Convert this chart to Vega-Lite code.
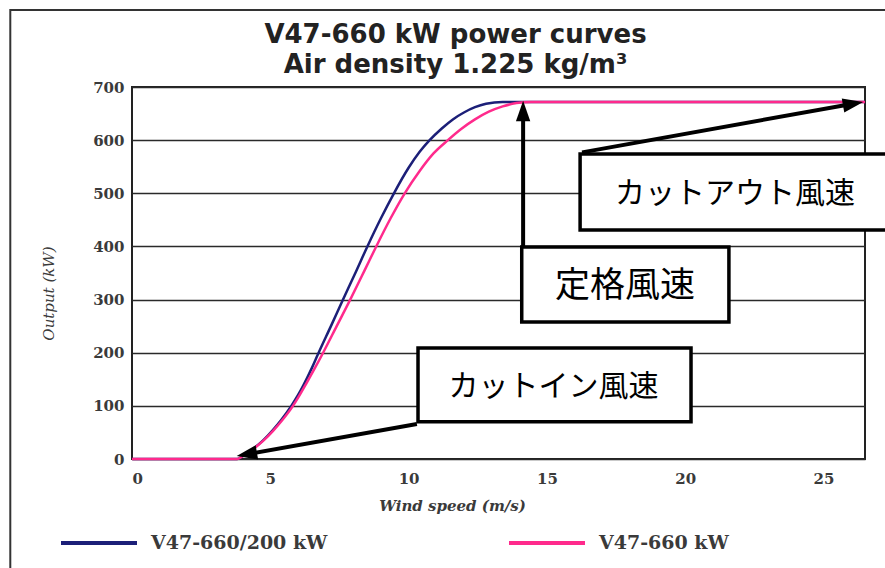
{
  "$schema": "https://vega.github.io/schema/vega-lite/v6.json",
  "autosize": {"type": "none"},
  "width": 733,
  "height": 372,
  "padding": {"left": 132, "top": 87, "right": 20, "bottom": 109},
  "background": "white",
  "config": {
    "view": {"stroke": "#222222", "strokeWidth": 2},
    "font": "DejaVu Serif"
  },
  "title": {
    "text": ["V47-660 kW power curves", "Air density 1.225 kg/m³"],
    "font": "DejaVu Sans",
    "fontWeight": "bold",
    "fontSize": 26,
    "lineHeight": 30,
    "color": "#222222",
    "anchor": "middle",
    "frame": "group",
    "dx": -43,
    "offset": -69
  },
  "datasets": {
    "curves": [
      {"model": "V47-660/200 kW", "wind": 0, "output": 0},
      {"model": "V47-660/200 kW", "wind": 3.8, "output": 0},
      {"model": "V47-660/200 kW", "wind": 4.0, "output": 5.5},
      {"model": "V47-660/200 kW", "wind": 4.4, "output": 20},
      {"model": "V47-660/200 kW", "wind": 4.74, "output": 35},
      {"model": "V47-660/200 kW", "wind": 5.1, "output": 55},
      {"model": "V47-660/200 kW", "wind": 5.4, "output": 74},
      {"model": "V47-660/200 kW", "wind": 5.76, "output": 100},
      {"model": "V47-660/200 kW", "wind": 6.0, "output": 120},
      {"model": "V47-660/200 kW", "wind": 6.2, "output": 139},
      {"model": "V47-660/200 kW", "wind": 6.5, "output": 171},
      {"model": "V47-660/200 kW", "wind": 6.73, "output": 198},
      {"model": "V47-660/200 kW", "wind": 7.2, "output": 251},
      {"model": "V47-660/200 kW", "wind": 7.63, "output": 300},
      {"model": "V47-660/200 kW", "wind": 8.1, "output": 353},
      {"model": "V47-660/200 kW", "wind": 8.51, "output": 400},
      {"model": "V47-660/200 kW", "wind": 9.0, "output": 453},
      {"model": "V47-660/200 kW", "wind": 9.47, "output": 500},
      {"model": "V47-660/200 kW", "wind": 10.0, "output": 548},
      {"model": "V47-660/200 kW", "wind": 10.4, "output": 578},
      {"model": "V47-660/200 kW", "wind": 10.76, "output": 600},
      {"model": "V47-660/200 kW", "wind": 11.2, "output": 622},
      {"model": "V47-660/200 kW", "wind": 11.6, "output": 639},
      {"model": "V47-660/200 kW", "wind": 12.0, "output": 652},
      {"model": "V47-660/200 kW", "wind": 12.4, "output": 662},
      {"model": "V47-660/200 kW", "wind": 12.8, "output": 668.5},
      {"model": "V47-660/200 kW", "wind": 13.4, "output": 672},
      {"model": "V47-660/200 kW", "wind": 26.5, "output": 672},
      {"model": "V47-660 kW", "wind": 0, "output": 0},
      {"model": "V47-660 kW", "wind": 3.8, "output": 0},
      {"model": "V47-660 kW", "wind": 4.0, "output": 5.5},
      {"model": "V47-660 kW", "wind": 4.4, "output": 19.5},
      {"model": "V47-660 kW", "wind": 4.74, "output": 34},
      {"model": "V47-660 kW", "wind": 5.1, "output": 53},
      {"model": "V47-660 kW", "wind": 5.4, "output": 71},
      {"model": "V47-660 kW", "wind": 5.82, "output": 100},
      {"model": "V47-660 kW", "wind": 6.0, "output": 115},
      {"model": "V47-660 kW", "wind": 6.3, "output": 142},
      {"model": "V47-660 kW", "wind": 6.6, "output": 170},
      {"model": "V47-660 kW", "wind": 6.91, "output": 200},
      {"model": "V47-660 kW", "wind": 7.4, "output": 250},
      {"model": "V47-660 kW", "wind": 7.89, "output": 300},
      {"model": "V47-660 kW", "wind": 8.4, "output": 354},
      {"model": "V47-660 kW", "wind": 8.83, "output": 400},
      {"model": "V47-660 kW", "wind": 9.35, "output": 453},
      {"model": "V47-660 kW", "wind": 9.86, "output": 500},
      {"model": "V47-660 kW", "wind": 10.4, "output": 542},
      {"model": "V47-660 kW", "wind": 10.9, "output": 575},
      {"model": "V47-660 kW", "wind": 11.42, "output": 600},
      {"model": "V47-660 kW", "wind": 11.9, "output": 621},
      {"model": "V47-660 kW", "wind": 12.4, "output": 639},
      {"model": "V47-660 kW", "wind": 12.9, "output": 653.5},
      {"model": "V47-660 kW", "wind": 13.4, "output": 663.5},
      {"model": "V47-660 kW", "wind": 13.9, "output": 669.8},
      {"model": "V47-660 kW", "wind": 14.42, "output": 672},
      {"model": "V47-660 kW", "wind": 26.5, "output": 672}
    ],
    "frame": [{"x1": -4.4, "x2": 28.5, "y1": 845, "y2": -300}],
    "boxes": [
      {"name": "cutout", "x1": 16.2, "x2": 28.5, "y1": 574, "y2": 431},
      {"name": "rated", "x1": 14.09, "x2": 21.58, "y1": 399, "y2": 258},
      {"name": "cutin", "x1": 10.34, "x2": 20.21, "y1": 209, "y2": 70}
    ],
    "arrows": [
      {"name": "cutin", "x1": 10.3, "y1": 66, "x2": 4.15, "y2": 9},
      {"name": "rated", "x1": 14.14, "y1": 399, "x2": 14.14, "y2": 652},
      {"name": "cutout", "x1": 16.27, "y1": 577, "x2": 26.07, "y2": 668.5}
    ],
    "heads": [
      {"name": "cutin", "x": 4.15, "y": 9},
      {"name": "rated", "x": 14.14, "y": 655},
      {"name": "cutout", "x": 26.07, "y": 668.5}
    ],
    "labels": [
      {"name": "cutin", "x": 15.24, "y": 136, "label": "カットイン風速"},
      {"name": "rated", "x": 17.82, "y": 325, "label": "定格風速"},
      {"name": "cutout", "x": 21.8, "y": 498, "label": "カットアウト風速"}
    ]
  },
  "layer": [
    {
      "data": {"name": "curves"},
      "mark": {"type": "line", "strokeWidth": 2.5, "interpolate": "monotone"},
      "encoding": {
        "x": {
          "field": "wind", "type": "quantitative",
          "scale": {"domain": [0, 26.5], "nice": false, "zero": false},
          "axis": {
            "title": "Wind speed (m/s)",
            "values": [0, 5, 10, 15, 20, 25],
            "grid": false, "ticks": false, "tickSize": 0, "domain": false,
            "labelFont": "DejaVu Serif", "labelFontWeight": "bold", "labelFontSize": 15,
            "labelColor": "#3a3a3a", "labelPadding": 12,
            "titleFont": "DejaVu Serif", "titleFontStyle": "italic", "titleFontWeight": "bold",
            "titleFontSize": 15, "titleColor": "#3a3a3a",
            "titleX": 320, "titleY": 46, "titleBaseline": "middle", "titleAnchor": "middle"
          }
        },
        "y": {
          "field": "output", "type": "quantitative",
          "scale": {"domain": [0, 700], "nice": false},
          "axis": {
            "title": "Output (kW)",
            "values": [0, 100, 200, 300, 400, 500, 600, 700],
            "grid": true, "gridColor": "#2a2a2a", "gridWidth": 1.5,
            "ticks": false, "tickSize": 0, "domain": false,
            "labelFont": "DejaVu Serif", "labelFontWeight": "bold", "labelFontSize": 15,
            "labelColor": "#3a3a3a", "labelPadding": 8,
            "titleFont": "DejaVu Serif", "titleFontStyle": "italic", "titleFontWeight": "normal",
            "titleFontSize": 15, "titleColor": "#3a3a3a",
            "titleX": -84, "titleY": 206, "titleBaseline": "middle", "titleAnchor": "middle", "titleAngle": -90
          }
        },
        "color": {
          "field": "model", "type": "nominal",
          "scale": {"domain": ["V47-660/200 kW", "V47-660 kW"], "range": ["#1c1f78", "#ff2a8c"]},
          "legend": {
            "title": null,
            "orient": "none",
            "legendX": -73,
            "legendY": 416,
            "direction": "horizontal",
            "columns": 2,
            "columnPadding": 173,
            "padding": 0,
            "symbolType": "stroke",
            "symbolSize": 5776,
            "symbolStrokeWidth": 4,
            "labelFont": "DejaVu Serif",
            "labelFontSize": 19,
            "labelFontWeight": "bold",
            "labelColor": "#3a3a3a",
            "labelOffset": 12,
            "labelLimit": 400
          }
        }
      }
    },
    {
      "data": {"name": "frame"},
      "mark": {"type": "rect", "fill": null, "stroke": "#333333", "strokeWidth": 2, "clip": false},
      "encoding": {
        "x": {"field": "x1", "type": "quantitative", "scale": {"domain": [0, 26.5], "nice": false, "zero": false}},
        "x2": {"field": "x2"},
        "y": {"field": "y1", "type": "quantitative", "scale": {"domain": [0, 700], "nice": false}},
        "y2": {"field": "y2"}
      }
    },
    {
      "data": {"name": "boxes"},
      "mark": {"type": "rect", "fill": "white", "stroke": "black", "strokeWidth": 3.5, "clip": false},
      "encoding": {
        "x": {"field": "x1", "type": "quantitative", "scale": {"domain": [0, 26.5], "nice": false, "zero": false}},
        "x2": {"field": "x2"},
        "y": {"field": "y1", "type": "quantitative", "scale": {"domain": [0, 700], "nice": false}},
        "y2": {"field": "y2"}
      }
    },
    {
      "data": {"name": "arrows"},
      "mark": {"type": "rule", "stroke": "black", "strokeWidth": 4, "clip": false},
      "encoding": {
        "x": {"field": "x1", "type": "quantitative", "scale": {"domain": [0, 26.5], "nice": false, "zero": false}},
        "x2": {"field": "x2"},
        "y": {"field": "y1", "type": "quantitative", "scale": {"domain": [0, 700], "nice": false}},
        "y2": {"field": "y2"}
      }
    },
    {
      "data": {"name": "heads"},
      "transform": [{"filter": "datum.name == 'cutin'"}],
      "mark": {"type": "point", "shape": "M0,-1L0.7,1L-0.7,1Z", "size": 420, "filled": true, "fill": "black", "stroke": null, "opacity": 1, "angle": 260, "clip": false},
      "encoding": {
        "x": {"field": "x", "type": "quantitative", "scale": {"domain": [0, 26.5], "nice": false, "zero": false}},
        "y": {"field": "y", "type": "quantitative", "scale": {"domain": [0, 700], "nice": false}}
      }
    },
    {
      "data": {"name": "heads"},
      "transform": [{"filter": "datum.name == 'rated'"}],
      "mark": {"type": "point", "shape": "M0,-1L0.7,1L-0.7,1Z", "size": 420, "filled": true, "fill": "black", "stroke": null, "opacity": 1, "angle": 0, "clip": false},
      "encoding": {
        "x": {"field": "x", "type": "quantitative", "scale": {"domain": [0, 26.5], "nice": false, "zero": false}},
        "y": {"field": "y", "type": "quantitative", "scale": {"domain": [0, 700], "nice": false}}
      }
    },
    {
      "data": {"name": "heads"},
      "transform": [{"filter": "datum.name == 'cutout'"}],
      "mark": {"type": "point", "shape": "M0,-1L0.7,1L-0.7,1Z", "size": 420, "filled": true, "fill": "black", "stroke": null, "opacity": 1, "angle": 80, "clip": false},
      "encoding": {
        "x": {"field": "x", "type": "quantitative", "scale": {"domain": [0, 26.5], "nice": false, "zero": false}},
        "y": {"field": "y", "type": "quantitative", "scale": {"domain": [0, 700], "nice": false}}
      }
    },
    {
      "data": {"name": "labels"},
      "transform": [{"filter": "datum.name != 'rated'"}],
      "mark": {"type": "text", "font": "Noto Sans CJK JP", "fontSize": 30, "color": "black", "align": "center", "baseline": "middle", "clip": false},
      "encoding": {
        "x": {"field": "x", "type": "quantitative", "scale": {"domain": [0, 26.5], "nice": false, "zero": false}},
        "y": {"field": "y", "type": "quantitative", "scale": {"domain": [0, 700], "nice": false}},
        "text": {"field": "label"}
      }
    },
    {
      "data": {"name": "labels"},
      "transform": [{"filter": "datum.name == 'rated'"}],
      "mark": {"type": "text", "font": "Noto Sans CJK JP", "fontSize": 35, "color": "black", "align": "center", "baseline": "middle", "clip": false},
      "encoding": {
        "x": {"field": "x", "type": "quantitative", "scale": {"domain": [0, 26.5], "nice": false, "zero": false}},
        "y": {"field": "y", "type": "quantitative", "scale": {"domain": [0, 700], "nice": false}},
        "text": {"field": "label"}
      }
    }
  ]
}
